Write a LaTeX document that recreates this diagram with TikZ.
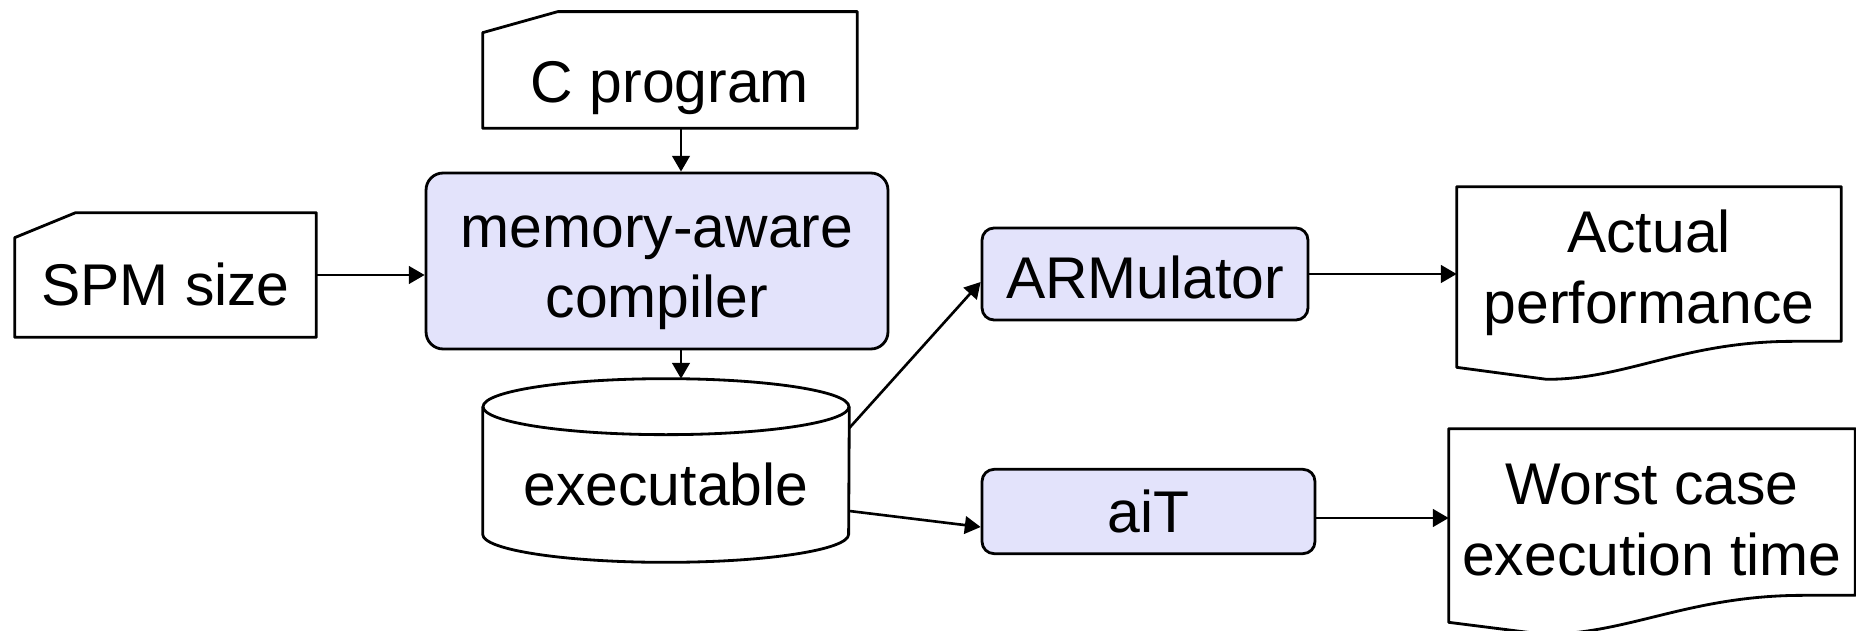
\documentclass[tikz,border=0pt]{standalone}
\usepackage{fontspec}
\setmainfont{Liberation Sans}
\usetikzlibrary{arrows.meta,calc}
\definecolor{procfill}{RGB}{227,227,251}
% struts that fix where the lines sit in a box
\newcommand{\topat}[1]{\rule{0pt}{#1}}
\newcommand{\botat}{\rule[-12pt]{0pt}{12pt}}
\begin{document}
\begin{tikzpicture}[x=0.02cm,y=-0.02cm,
  every node/.style={font=\fontsize{33.5}{40}\selectfont, inner sep=0pt, align=center},
  outline/.style={line width=1.6pt, line join=round},
  proc/.style={draw, outline, fill=procfill, rounded corners=0.34cm},
  flow/.style={line width=1.5pt, -{Triangle[length=9pt,width=10pt]}}]
\useasboundingbox (0,0) rectangle (1856,631);

% inputs
\node (spm) [minimum width=6.02cm, minimum height=2.48cm] at (165.5,275) {\topat{46.8pt}SPM size\botat};
\draw [outline] ([yshift=-0.5cm]spm.north west) -- ([xshift=1.22cm]spm.north west) -- (spm.north east) -- (spm.south east) -- (spm.south west) -- cycle;
\node (cprog) [minimum width=7.48cm, minimum height=2.32cm] at (670,70) {\topat{49pt}C program\botat};
\draw [outline] ([yshift=-0.42cm]cprog.north west) -- ([xshift=1.5cm]cprog.north west) -- (cprog.north east) -- (cprog.south east) -- (cprog.south west) -- cycle;

% tools
\node (compiler) [proc, minimum width=9.24cm, minimum height=3.52cm] at (657,261) {\topat{36.4pt}memory-aware\\compiler\botat};
\node (armul) [proc, rounded corners=0.24cm, minimum width=6.52cm, minimum height=1.84cm] at (1145,274) {\topat{40pt}ARMulator\botat};
\node (ait) [proc, rounded corners=0.24cm, minimum width=6.66cm, minimum height=1.66cm] at (1148.5,511.5) {\topat{36pt}aiT\botat};

% executable
\node (exe) [minimum width=7.32cm, minimum height=3.1cm] at (666,484.5) {\topat{36.4pt}executable\botat};
\draw [outline] (exe.north) ellipse [x radius=3.66cm, y radius=0.56cm];
\draw [outline] (exe.north west) -- ([yshift=0.56cm]exe.south west) arc [start angle=180, end angle=360, x radius=3.66cm, y radius=0.56cm] -- (exe.north east);

% results
\node (actual) [minimum width=7.68cm, minimum height=3.6cm] at (1649,277) {\topat{24.4pt}Actual\\performance\botat};
\draw [outline] (actual.south west) -- (actual.north west) -- (actual.north east) -- ([yshift=0.52cm]actual.south east) -- ++(-0.96cm,0)
  .. controls +(-2.2cm,0) and +(1.6cm,0) .. ($(actual.south west)+(1.8cm,-0.24cm)$) -- cycle;
\node (worst) [minimum width=8.12cm, minimum height=3.86cm] at (1652,525.5) {\topat{28.6pt}Worst case\\execution time\botat};
\draw [outline] (worst.south west) -- (worst.north west) -- (worst.north east) -- ([yshift=0.54cm]worst.south east) -- ++(-1.04cm,0)
  .. controls +(-2.3cm,0) and +(1.7cm,0) .. ($(worst.south west)+(1.9cm,-0.24cm)$) -- cycle;

% connectors
\draw [flow] (spm.east) -- (spm.east -| compiler.west);
\draw [flow] ([xshift=0.22cm]cprog.south) -- ($(cprog.south |- compiler.north)+(0.22cm,0)$);
\draw [flow] ($(cprog.south |- compiler.south)+(0.22cm,0)$) -- ($(cprog.south |- exe.north)+(0.22cm,0.56cm)$);
\draw [flow] ([yshift=1.13cm]exe.east) -- ([yshift=-0.16cm]armul.west);
\draw [flow] ([yshift=-0.53cm]exe.east) -- ([yshift=-0.31cm]ait.west);
\draw [flow] (armul.east) -- (armul.east -| actual.west);
\draw [flow] ([yshift=-0.13cm]ait.east) -- ([yshift=-0.13cm]ait.east -| worst.west);
\end{tikzpicture}
\end{document}
